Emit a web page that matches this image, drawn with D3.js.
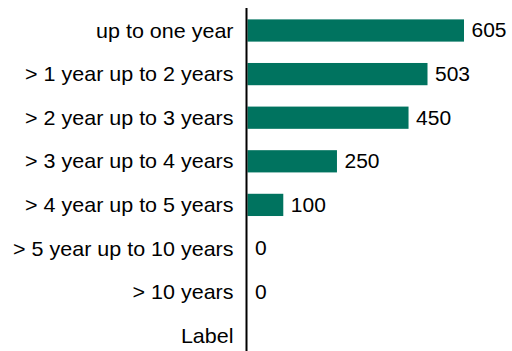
<!DOCTYPE html>
<html><head><meta charset="utf-8">
<script src="https://cdn.jsdelivr.net/npm/d3@7"></script>
<style>html,body{margin:0;padding:0;background:#fff}svg{display:block}</style>
</head><body>
<script>
const categories = ["up to one year", "> 1 year up to 2 years", "> 2 year up to 3 years", "> 3 year up to 4 years", "> 4 year up to 5 years", "> 5 year up to 10 years", "> 10 years", "Label"];
const values = [605, 503, 450, 250, 100, 0, 0, null];

const W = 512, H = 351;
const x0 = 247.5;
const sy = 0.93;
const svg = d3.select("body").append("svg").attr("width", W).attr("height", H);
const y = d3.scaleBand().domain(categories).range([8.7, 357.5]).paddingInner(0.49).paddingOuter(0.245);
const x = d3.scaleLinear().domain([0, 605]).range([x0, 464]);
const font = "Liberation Sans, Arial, sans-serif";

const data = categories.map((c, i) => ({c, v: values[i]}));

svg.selectAll("rect.bar").data(data.filter(d => d.v != null && d.v > 0)).join("rect")
  .attr("x", x(0)).attr("y", d => y(d.c)).attr("width", d => x(d.v) - x(0)).attr("height", y.bandwidth())
  .attr("fill", "#00735f");

svg.selectAll("text.val").data(data.filter(d => d.v != null)).join("text")
  .attr("transform", d => `translate(${x(d.v) + 7.5},${y(d.c) + y.bandwidth() / 2}) scale(1,${sy})`)
  .attr("dy", "0.35em").attr("font-family", font).attr("font-size", 21).attr("fill", "#000")
  .text(d => d.v);

svg.selectAll("text.cat").data(categories).join("text")
  .attr("transform", d => `translate(${x0 - 14},${y(d) + y.bandwidth() / 2}) scale(1,${sy})`)
  .attr("dy", "0.35em").attr("text-anchor", "end").attr("font-family", font).attr("font-size", 21.5).attr("fill", "#000")
  .text(d => d);

svg.append("line").attr("x1", x0 - 1).attr("x2", x0 - 1).attr("y1", 8).attr("y2", H)
  .attr("stroke", "#000").attr("stroke-width", 2);
</script>
</body></html>
